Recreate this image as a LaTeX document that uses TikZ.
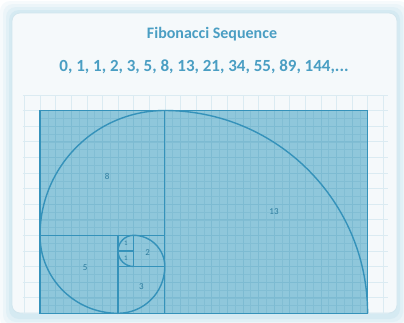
\documentclass[tikz,border=0pt]{standalone}
\usepackage{fontspec}
\setmainfont{Carlito}
\definecolor{txt}{HTML}{4A9EC3}
\definecolor{boxfill}{HTML}{8FC7DB}
\definecolor{line}{HTML}{3592BA}
\definecolor{cardfill}{HTML}{F5F9FB}
\definecolor{cardedge}{HTML}{D2E6EE}
\definecolor{glow}{HTML}{B9DCEA}
\definecolor{outgrid}{HTML}{DBEBF2}
\definecolor{ingrid}{HTML}{7DBBD2}
\tikzset{
  lbl/.style={text=line!85!black, font=\fontsize{9}{10}\selectfont},
  sq/.style={draw=line, line width=1.2pt},
  spiral/.style={draw=line, line width=1.4pt}
}
\begin{document}
\begin{tikzpicture}[x=1pt,y=1pt]
\useasboundingbox (0,-322) rectangle (404,0);
\fill[white] (0,-322) rectangle (404,0);
% glow around the card
\foreach \i/\o in {12/0.12, 9/0.16, 6/0.2, 3/0.28} {
  \fill[glow, opacity=\o, rounded corners=10] (12-\i,-13+\i) rectangle (397+\i,-316-\i);
}
\fill[cardfill, draw=cardedge, line width=0.8pt, rounded corners=8] (12,-13) rectangle (397,-313);
% texts
\node[text=txt, font=\bfseries\fontsize{16}{19}\selectfont] (title) at (212,-34) {Fibonacci Sequence};
\node[text=txt, font=\bfseries\fontsize{17}{20}\selectfont] (seq) at (204,-67) {0, 1, 1, 2, 3, 5, 8, 13, 21, 34, 55, 89, 144,...};
\begin{scope}[shift={(40,-313.3)}, x=15.6pt, y=15.6pt]
  % outer light grid
  \draw[outgrid, line width=0.6pt, step=1] (-1.1,0) grid (22.3,14);
  % coloured rectangle
  \fill[boxfill] (0,0) rectangle (21,13);
  \draw[ingrid, line width=0.3pt, step=0.5, opacity=0.7] (0,0) grid (21,13);
  \draw[ingrid, line width=0.6pt, step=1] (0,0) grid (21,13);
  % squares
  \draw[sq] (0,0) rectangle (21,13);
  \draw[sq] (8,0) -- (8,13);
  \draw[sq] (0,5) -- (8,5);
  \draw[sq] (5,0) -- (5,5);
  \draw[sq] (5,3) -- (8,3);
  \draw[sq] (6,3) -- (6,5);
  \draw[sq] (5,4) -- (6,4);
  % spiral
  \draw[spiral] (21,0) arc[start angle=0, end angle=90, radius=13]
    arc[start angle=90, end angle=180, radius=8]
    arc[start angle=180, end angle=270, radius=5]
    arc[start angle=270, end angle=360, radius=3]
    arc[start angle=0, end angle=90, radius=2]
    arc[start angle=90, end angle=180, radius=1]
    arc[start angle=180, end angle=270, radius=1];
  % labels
  \node[lbl] (l13) at (15,6.5) {13};
  \node[lbl] (l8) at (4.3,8.8) {8};
  \node[lbl] (l5) at (2.9,2.9) {5};
  \node[lbl] (l3) at (6.5,1.7) {3};
  \node[lbl] (l2) at (6.9,3.9) {2};
  \node[lbl, font=\fontsize{7}{8}\selectfont] (l1a) at (5.5,4.5) {1};
  \node[lbl, font=\fontsize{7}{8}\selectfont] (l1b) at (5.5,3.5) {1};
\end{scope}
\end{tikzpicture}
\end{document}
